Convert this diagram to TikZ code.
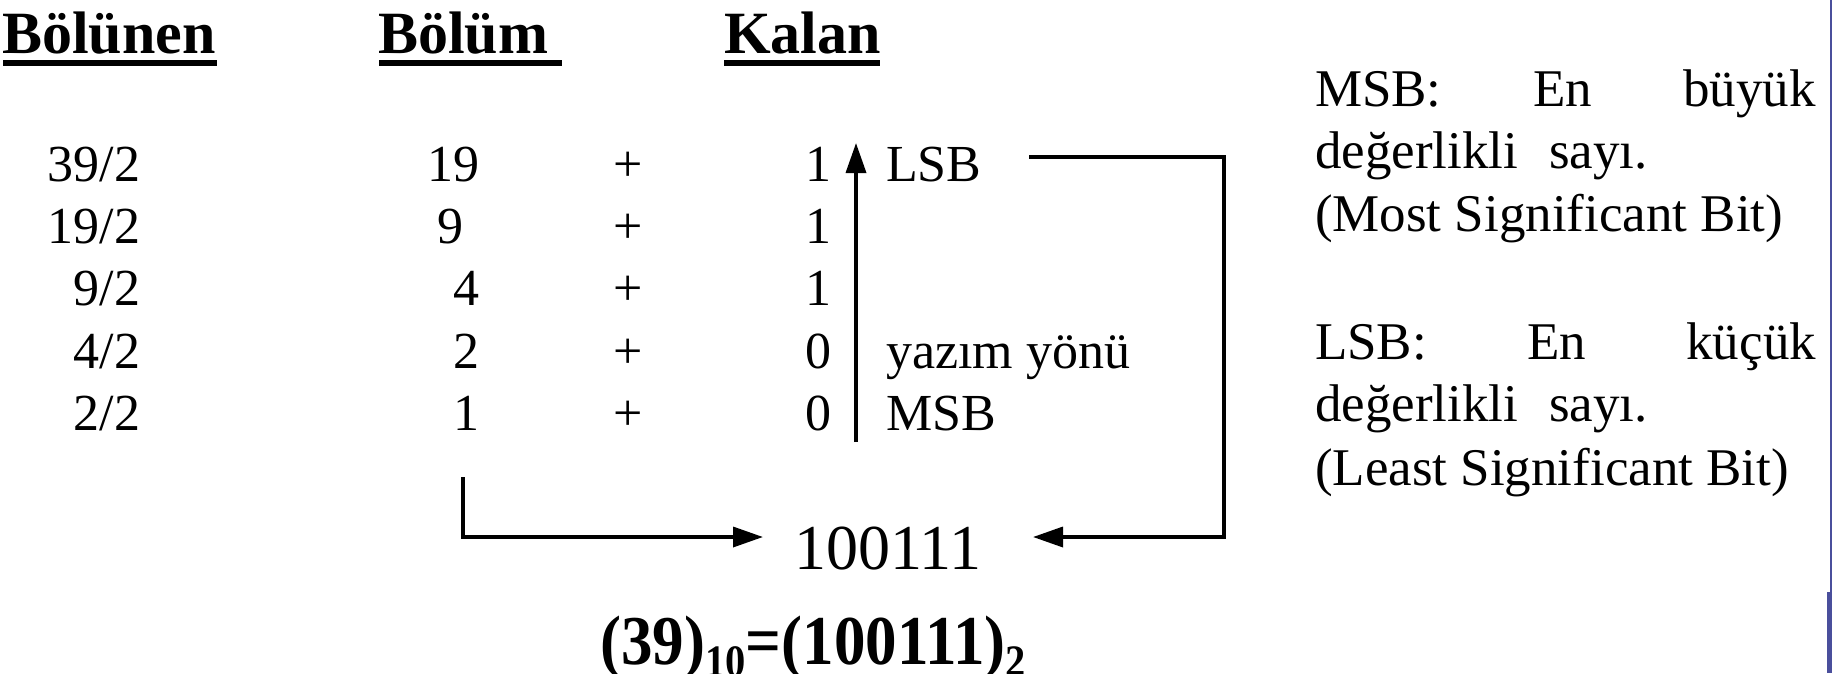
\documentclass[tikz,border=0pt]{standalone}
\usepackage{fontspec}
\setmainfont{Liberation Serif}
\usetikzlibrary{arrows.meta}
\newcommand\fsz[1]{\fontsize{#1}{#1}\selectfont}
\definecolor{edgeblue}{HTML}{4A4F9C}

\begin{document}
\begin{tikzpicture}[x=1pt,y=-1pt,
  hdr/.style={font=\fsz{60}\bfseries, anchor=base west, inner sep=0pt, outer sep=0pt},
  cell/.style={font=\fsz{52}, inner sep=0pt, outer sep=0pt},
  num/.style={cell, anchor=base east},
  plus/.style={cell, anchor=base},
  tag/.style={cell, anchor=base west},
  note/.style={font=\fsz{53}, anchor=base west, inner sep=0pt, outer sep=0pt},
  link/.style={line width=3.5pt},
  arr/.style={-{Triangle[length=30pt,width=20pt]}}]

\useasboundingbox (0,0) rectangle (1832,673);

% column headings, underlined
\node[hdr] (h1) at (2,53)   {Bölünen};
\node[hdr] (h2) at (378,53) {Bölüm};
\node[hdr] (h3) at (724,53) {Kalan};
\fill (3,59.5)   rectangle (217,66);
\fill (379,59.5) rectangle (562,66);
\fill (724,59.5) rectangle (880,66);

% successive divisions by 2
\node[num] (d1) at (140,181.5) {39/2};
\node[num] (d2) at (140,243.5) {19/2};
\node[num] (d3) at (140,305.5) {9/2};
\node[num] (d4) at (140,368)   {4/2};
\node[num] (d5) at (140,430)   {2/2};

\node[num] (q1) at (479,181.5) {19};
\node[num] (q2) at (463.5,243.5) {9};
\node[num] (q3) at (479,305.5) {4};
\node[num] (q4) at (479,368)   {2};
\node[num] (q5) at (479,430)   {1};

\node[plus] (p1) at (628,181.5) {+};
\node[plus] (p2) at (628,243.5) {+};
\node[plus] (p3) at (628,305.5) {+};
\node[plus] (p4) at (628,368)   {+};
\node[plus] (p5) at (628,430)   {+};

\node[num] (k1) at (831,181.5) {1};
\node[num] (k2) at (831,243.5) {1};
\node[num] (k3) at (831,305.5) {1};
\node[num] (k4) at (831,368)   {0};
\node[num] (k5) at (831,430)   {0};

\node[tag] (lsb) at (886,181.5) {LSB};
\node[tag] (dir) at (886,368)   {yazım yönü};
\node[tag] (msb) at (886,430)   {MSB};

% reading direction
\coordinate (abot) at (856,442);
\coordinate (atop) at (856,143);
\draw[link,arr] (abot) -- (atop);

% result
\node[font=\fsz{64}, anchor=base west, inner sep=0pt] (res) at (794,569) {100111};

\coordinate (l0)  at (463,477);
\coordinate (lin) at (763,537);
\draw[link,arr] (l0) |- (lin);

\coordinate (r0)  at (1029,157);
\coordinate (rc)  at (1224,537);
\coordinate (rin) at (1033,537);
\draw[link,arr] (r0) -| (rc) -- (rin);

% equation
\node[font=\fsz{70}\bfseries, anchor=base west, inner sep=0pt] (eq) at (600,664)
  {\scalebox{0.9}[1]{(39)\raisebox{-12pt}{\fsz{45}10}=(100111)\raisebox{-12pt}{\fsz{45}2}}};

% explanations
\node[note] (m1) at (1315,106)   {\hbox to 501pt{MSB:\hfill En\hfill büyük}};
\node[note] (m2) at (1315,168)   {değerlikli\hspace{31pt}sayı.};
\node[note] (m3) at (1315,231.5) {(Most Significant Bit)};
\node[note] (n1) at (1315,359)   {\hbox to 501pt{LSB:\hfill En\hfill küçük}};
\node[note] (n2) at (1315,421)   {değerlikli\hspace{31pt}sayı.};
\node[note] (n3) at (1315,485)   {(Least Significant Bit)};

% slide edge
\draw[edgeblue, line width=1.5pt] (1831.2,0) -- (1831.2,592);
\fill[edgeblue] (1827,592) rectangle (1832,673);
\end{tikzpicture}
\end{document}
